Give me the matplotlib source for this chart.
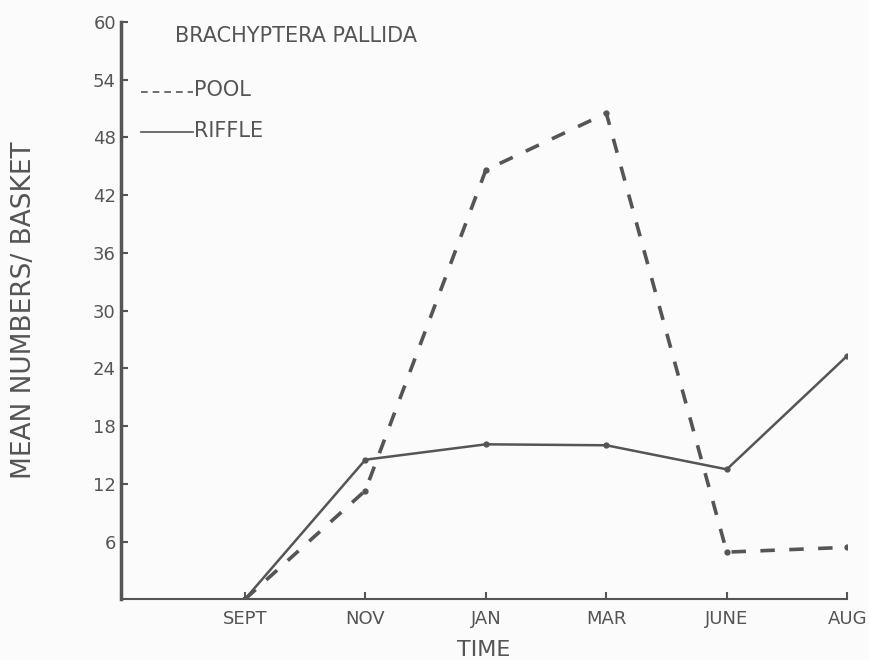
import numpy as np
import matplotlib
matplotlib.use('Agg')
import matplotlib.pyplot as plt

months = ['SEPT', 'NOV', 'JAN', 'MAR', 'JUNE', 'AUG']
pool = [0, 11.3, 44.6, 50.5, 4.9, 5.4]
riffle = [0, 14.5, 16.1, 16.0, 13.5, 25.3]
yticks = [6, 12, 18, 24, 30, 36, 42, 48, 54, 60]

ink = '#555555'
plt.rcParams['font.family'] = 'DejaVu Sans'

fig = plt.figure(figsize=(8.69, 6.6), dpi=100)
fig.patch.set_facecolor('#fbfbfb')
ax = fig.add_axes([0.139, 0.092, 0.836, 0.875])
ax.set_facecolor('#fbfbfb')

x = np.arange(len(months))
ax.plot(x, riffle, color=ink, lw=1.8, marker='o', ms=3.5)
ax.plot(x, pool, color=ink, lw=2.6, ls=(0, (4, 4)), marker='o', ms=3.5)

ax.set_xlim(-1.03, 5.0)
ax.set_ylim(0, 60)
ax.set_xticks(x)
ax.set_xticklabels(months)
ax.set_yticks(yticks)
ax.tick_params(direction='in', colors=ink, labelsize=13, length=5, width=1.5)
ax.tick_params(axis='x', pad=8)
for s in ['top', 'right']:
    ax.spines[s].set_visible(False)
for s in ['left', 'bottom']:
    ax.spines[s].set_color(ink)
ax.spines['left'].set_linewidth(2.5)
ax.spines['bottom'].set_linewidth(1.5)

ax.set_xlabel('TIME', color=ink, fontsize=16, labelpad=8)
ax.set_ylabel('MEAN NUMBERS/ BASKET', color=ink, fontsize=19, labelpad=40)

ax.text(-0.58, 58.5, 'BRACHYPTERA PALLIDA', color=ink, fontsize=15, va='center')
ax.plot([-0.86, -0.43], [52.7, 52.7], color=ink, lw=1.2, ls=(0, (4, 3)))
ax.text(-0.42, 52.9, 'POOL', color=ink, fontsize=15, va='center')
ax.plot([-0.86, -0.43], [48.5, 48.5], color=ink, lw=1.2)
ax.text(-0.42, 48.7, 'RIFFLE', color=ink, fontsize=15, va='center')

fig.savefig('out.png', dpi=100, facecolor=fig.get_facecolor())
